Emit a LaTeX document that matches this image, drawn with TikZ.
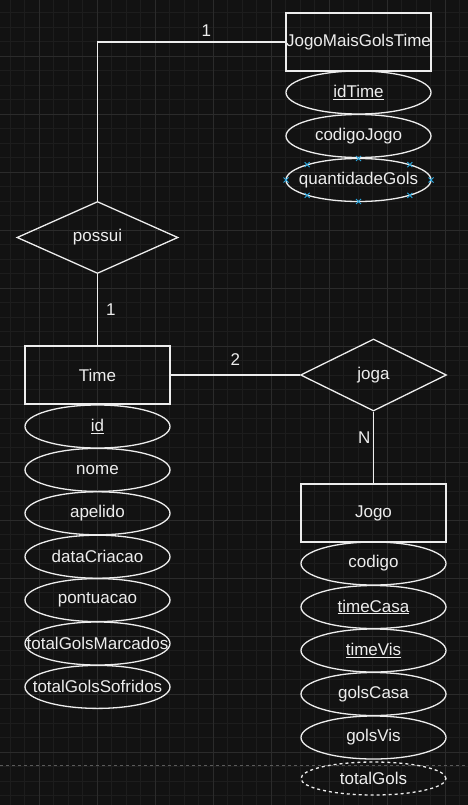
\documentclass[tikz,border=0pt]{standalone}
\usepackage{fontspec}
\setmainfont{Liberation Sans}
\usepackage{xcolor}
\usetikzlibrary{shapes.geometric}
\definecolor{canvas}{HTML}{121212}
\definecolor{gridminor}{HTML}{1D1D1D}
\definecolor{gridmajor}{HTML}{2B2B2B}
\definecolor{ink}{HTML}{EDEDED}
\definecolor{pagebreak}{HTML}{5A5A5A}
\definecolor{handle}{HTML}{29A8E0}
\newcommand{\erfont}{\fontsize{17}{20}\selectfont}

\begin{document}
\begin{tikzpicture}[x=1pt, y=-1pt,
    entity/.style={draw=ink, line width=1.3pt, rectangle, minimum width=145pt, minimum height=58pt, inner sep=0pt, text=ink, font=\erfont},
    attr/.style={draw=ink, line width=1.3pt, ellipse, minimum width=145pt, minimum height=43pt, inner xsep=-25pt, inner ysep=0pt, text=ink, font=\erfont},
    relation/.style={draw=ink, line width=1.3pt, diamond, inner sep=0pt, text=ink, font=\erfont},
    link/.style={draw=ink, line width=1.3pt},
    card/.style={text=ink, font=\erfont, inner sep=0pt},
    mark handle/.style={draw=handle, line width=0.9pt}]

% Canvas and grid
\fill[canvas] (0,0) rectangle (468,805);
\useasboundingbox (0,0) rectangle (468,805);
\foreach \x in {10,24.5,...,468} \draw[gridminor, line width=0.6pt] (\x,0) -- (\x,805);
\foreach \y in {12.5,27,...,805} \draw[gridminor, line width=0.6pt] (0,\y) -- (468,\y);
\foreach \x in {39,97,...,468} \draw[gridmajor, line width=0.8pt] (\x,0) -- (\x,805);
\foreach \y in {56,114,...,805} \draw[gridmajor, line width=0.8pt] (0,\y) -- (468,\y);

% Page break
\draw[pagebreak, dashed, line width=0.6pt, dash pattern=on 3pt off 3pt] (0,765) -- (468,765);

% JogoMaisGolsTime entity
\node[entity] (jmgt) at (358.5,42) {JogoMaisGolsTime};
\node[attr] (idtime) at (358.5,92.5) {\underline{idTime}};
\node[attr] (codjogo) at (358.5,136) {codigoJogo};
\node[attr] (qtdgols) at (358.5,180) {quantidadeGols};

% selection handles
\foreach \hx/\hy in {286/180, 431/180, 358.5/158.5, 358.5/201.5, 307.2/164.6, 409.8/164.6, 307.2/195.4, 409.8/195.4}
  \draw[mark handle] (\hx-2.5,\hy-2.5) -- (\hx+2.5,\hy+2.5) (\hx-2.5,\hy+2.5) -- (\hx+2.5,\hy-2.5);

% possui relation
\node[relation, minimum width=161pt, minimum height=72pt] (possui) at (97.5,237.5) {possui};

% Time entity
\node[entity] (time) at (97.5,375) {Time};
\node[attr] (tid) at (97.5,426.5) {\underline{id}};
\node[attr] (tnome) at (97.5,469.9) {nome};
\node[attr] (tapelido) at (97.5,513.3) {apelido};
\node[attr] (tdata) at (97.5,556.7) {dataCriacao};
\node[attr] (tpont) at (97.5,600.1) {pontuacao};
\node[attr] (tmarc) at (97.5,643.5) {totalGolsMarcados};
\node[attr] (tsofr) at (97.5,686.9) {totalGolsSofridos};

% joga relation
\node[relation, minimum width=146pt, minimum height=72pt] (joga) at (373.5,375) {joga};

% Jogo entity
\node[entity] (jogo) at (373.5,513) {Jogo};
\node[attr] (jcod) at (373.5,563.5) {codigo};
\node[attr] (jcasa) at (373.5,607) {\underline{timeCasa}};
\node[attr] (jvis) at (373.5,650.5) {\underline{timeVis}};
\node[attr] (jgcasa) at (373.5,694) {golsCasa};
\node[attr] (jgvis) at (373.5,737.5) {golsVis};
\node[attr, dashed, minimum height=33pt] (jtotal) at (373.5,778.5) {totalGols};

% Connectors
\draw[link] (jmgt.west) -| node[card, pos=0.21, above=5pt] {1} (possui.north);
\draw[link] (possui.south) -- node[card, right=8pt] {1} (time.north);
\draw[link] (time.east) -- node[card, above=9pt] {2} (joga.west);
\draw[link] (joga.south) -- node[card, pos=0.36, left=2.5pt] {N} (jogo.north);
\end{tikzpicture}
\end{document}
